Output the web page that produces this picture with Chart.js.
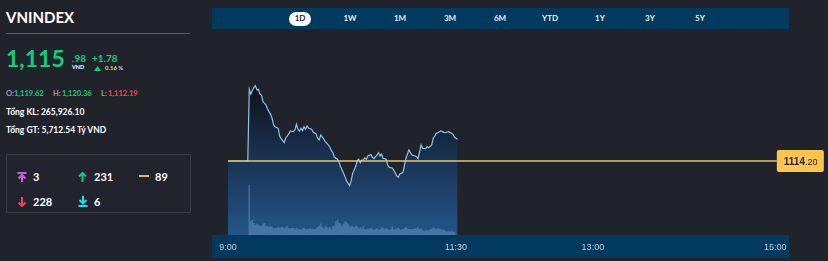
<!DOCTYPE html>
<html><head><meta charset="utf-8">
<script src="https://cdn.jsdelivr.net/npm/chart.js@4/dist/chart.umd.min.js"></script>
<style>
html,body{margin:0;padding:0;background:#21232b;width:828px;height:261px;overflow:hidden;font-family:Lato,"Open Sans",sans-serif;}
.a{position:absolute;white-space:nowrap;line-height:1;}
.tab{position:absolute;top:14px;width:40px;text-align:center;font-size:8px;font-weight:700;color:#e8eef5;line-height:1;}
.g{color:#10cf7e}
.n{font-size:11px;font-weight:700;color:#fff}
</style></head><body>
<!-- left info panel -->
<div class="a" style="left:6px;top:10px;font-size:15px;font-weight:700;color:#fff;">VNINDEX</div>
<div style="position:absolute;left:6px;top:33px;width:184px;height:1px;background:#5b5e66"></div>
<div class="a g" style="left:6px;top:47px;font-size:23px;font-weight:700;">1,115</div>
<div class="a g" style="left:72px;top:53px;font-size:10px;font-weight:700;">.98</div>
<div class="a" style="left:72px;top:65px;font-size:5.5px;font-weight:700;color:#fff;">VND</div>
<div class="a g" style="left:92px;top:53px;font-size:10px;font-weight:700;">+1.78</div>
<svg style="position:absolute;left:94px;top:66px" width="7" height="5" viewBox="0 0 7 5"><path d="M3.5 0 L7 5 L0 5 Z" fill="#10cf7e"/></svg>
<div class="a" style="left:105px;top:65px;font-size:6px;font-weight:700;color:#d0d3d8;">0.16 %</div>

<div class="a" style="left:6px;top:90px;font-size:7.5px;font-weight:700;color:#9aa0a8;">O:</div>
<div class="a g" style="left:14px;top:90px;font-size:7.5px;font-weight:700;">1,119.62</div>
<div class="a" style="left:53px;top:90px;font-size:7.5px;font-weight:700;color:#9aa0a8;">H:</div>
<div class="a g" style="left:62px;top:90px;font-size:7.5px;font-weight:700;">1,120.36</div>
<div class="a" style="left:101px;top:90px;font-size:7.5px;font-weight:700;color:#9aa0a8;">L:</div>
<div class="a" style="left:108px;top:90px;font-size:7.5px;font-weight:700;color:#f2454f;">1,112.19</div>

<div class="a" style="left:6px;top:108px;font-size:8.5px;font-weight:700;color:#fff;">Tổng KL: 265,926.10</div>
<div class="a" style="left:6px;top:126px;font-size:8.5px;font-weight:700;color:#fff;">Tổng GT: 5,712.54 Tỷ VND</div>

<div style="position:absolute;left:6px;top:154px;width:183px;height:57px;border:1px solid #383b44;background:#21242c"></div>
<svg style="position:absolute;left:17px;top:172px" width="10" height="10" viewBox="0 0 10 10"><path d="M0.5 1 H9.5 M5 3 V10 M1.5 6.5 L5 3 L8.5 6.5" stroke="#d553f2" stroke-width="2" fill="none"/></svg>
<div class="a n" style="left:33px;top:171px;">3</div>
<svg style="position:absolute;left:78px;top:172px" width="9" height="10" viewBox="0 0 9 10"><path d="M4.5 1 V10 M1 4.5 L4.5 1 L8 4.5" stroke="#16c784" stroke-width="2" fill="none"/></svg>
<div class="a n" style="left:94px;top:171px;">231</div>
<div style="position:absolute;left:139px;top:175px;width:10px;height:2px;background:#f3b43c"></div>
<div class="a n" style="left:155px;top:171px;">89</div>
<svg style="position:absolute;left:17px;top:197px" width="10" height="10" viewBox="0 0 10 10"><path d="M5 0 V9 M1.5 5.5 L5 9 L8.5 5.5" stroke="#f0435a" stroke-width="2" fill="none"/></svg>
<div class="a n" style="left:33px;top:196px;">228</div>
<svg style="position:absolute;left:78px;top:196px" width="10" height="11" viewBox="0 0 10 11"><path d="M5 0 V7.5 M1.5 4 L5 7.5 L8.5 4 M0.5 10 H9.5" stroke="#19e0ea" stroke-width="2" fill="none"/></svg>
<div class="a n" style="left:94px;top:196px;">6</div>

<!-- top period bar -->
<div style="position:absolute;left:212px;top:8px;width:577px;height:21px;background:#003a5f"></div>
<div style="position:absolute;left:289px;top:12px;width:22px;height:14px;border-radius:8px;background:#fff"></div>
<div class="tab" style="left:280px;color:#1b1d22;">1D</div>
<div class="tab" style="left:330px;">1W</div>
<div class="tab" style="left:380px;">1M</div>
<div class="tab" style="left:430px;">3M</div>
<div class="tab" style="left:480px;">6M</div>
<div class="tab" style="left:530px;">YTD</div>
<div class="tab" style="left:580px;">1Y</div>
<div class="tab" style="left:630px;">3Y</div>
<div class="tab" style="left:680px;">5Y</div>

<!-- time axis band -->
<div style="position:absolute;left:212px;top:235px;width:577px;height:23px;background:#003a5f"></div>
<canvas id="c" width="616" height="226" style="position:absolute;left:212px;top:35px;"></canvas>

<script>
// ---- data ----
const referencePrice = 1114.20;
const timeTickMinutes = [0, 150, 240, 360];          // minutes after 09:00
const timeTickLabels  = ['9:00', '11:30', '13:00', '15:00'];
const priceMinutes = [0,13,14,15,16,17,18,19,20,21,22,23,25,26,28,29,30,31,33,34,35,37,38,40,41,43,44,45,46,47,48,49,50,51,52,53,55,56,58,59,60,61,63,64,66,67,68,69,70,72,73,74,75,76,77,78,80,81,82,84,85,86,87,88,89,90,91,92,94,95,96,98,99,100,101,102,104,105,106,108,109,111,112,113,115,116,117,119,120,121,123,124,125,126,127,128,130,131,132,134,135,136,137,138,140,141,142,143,144,145,147,148,149,151];
const priceValues = [1114.20,1114.20,1120.06,1119.67,1119.95,1120.20,1120.36,1120.00,1120.06,1119.67,1119.59,1119.05,1118.78,1118.45,1118.01,1117.69,1117.14,1117.00,1116.87,1116.24,1116.00,1115.70,1116.08,1116.41,1116.65,1116.60,1116.73,1117.20,1116.79,1116.65,1116.87,1116.68,1117.00,1116.79,1117.06,1116.87,1116.79,1116.57,1116.41,1116.05,1115.92,1116.32,1116.00,1115.78,1115.51,1115.32,1115.04,1114.88,1114.50,1114.34,1114.12,1113.74,1113.47,1113.19,1112.92,1112.57,1112.19,1112.59,1113.19,1113.74,1114.23,1114.34,1114.06,1114.28,1114.28,1114.45,1114.34,1114.61,1114.72,1114.50,1114.39,1114.69,1114.88,1114.61,1114.77,1114.42,1114.34,1113.87,1113.68,1113.63,1113.47,1112.98,1112.87,1113.14,1113.25,1113.79,1114.42,1115.10,1114.88,1114.69,1114.61,1114.55,1114.39,1114.94,1115.51,1115.24,1115.21,1115.37,1115.29,1115.51,1116.05,1116.24,1116.46,1116.51,1116.65,1116.60,1116.54,1116.51,1116.57,1116.60,1116.46,1116.38,1116.13,1115.98];
const volumeStartMinute = 14; // one bar per minute from 09:14
const volumes = [150,40,45,35,30,33,30,27,27,33, 35,27,25,23,27,23,20,20,20,23, 20,23,23,20,23,25,20,19,20,20, 18,21,17,17,15,19,21,17,17,17, 19,17,17,17,19,23,27,33,23,19, 27,23,19,23,17,25,27,40,45,35, 33,27,33,40,37,33,27,25,25,23, 27,25,19,23,19,25,17,15,19,17, 21,17,15,17,19,15,17,23,19,17, 21,17,15,17,25,17,15,19,21,17, 15,17,19,23,19,17,17,17,17,19, 19,23,17,19,13,11,13,13,13,17, 17,21,19,17,19,17,17,15,15,11, 9,11,9,11,9,9];
const referenceEndMinute = 361;

const pricePoints = priceMinutes.map((m, i) => ({x: m, y: priceValues[i]}));
const volumePoints = volumes.map((v, i) => ({x: volumeStartMinute + i, y: v}));
const refPoints = [{x: 0, y: referencePrice}, {x: referenceEndMinute, y: referencePrice}];
const priceHigh = Math.max(...priceValues);

const refLabelPlugin = {
  id: 'refLabel',
  afterDatasetsDraw(chart) {
    const ctx = chart.ctx;
    const y = chart.scales.y.getPixelForValue(referencePrice);
    const x = chart.scales.x.getPixelForValue(referenceEndMinute);
    ctx.save();
    ctx.fillStyle = '#ffc44d';
    const w = 47, h = 22;
    ctx.beginPath();
    if (ctx.roundRect) ctx.roundRect(x, y - h / 2, w, h, 2); else ctx.rect(x, y - h / 2, w, h);
    ctx.fill();
    const s = referencePrice.toFixed(2).split('.');
    ctx.fillStyle = '#2a2a2a';
    ctx.textBaseline = 'alphabetic';
    ctx.font = 'bold 10px "Liberation Sans", Arial, sans-serif';
    const w1 = ctx.measureText(s[0]).width;
    ctx.fillText(s[0], x + 7, y + 4);
    ctx.font = '9px "Liberation Sans", Arial, sans-serif';
    ctx.fillText('.' + s[1], x + 7 + w1, y + 4);
    ctx.restore();
  }
};

new Chart(document.getElementById('c'), {
  type: 'line',
  data: {
    datasets: [
      { data: refPoints, borderColor: '#e9c46a', borderWidth: 1.5, pointRadius: 0, fill: false, order: 0 },
      { type: 'bar', data: volumePoints, yAxisID: 'yv', backgroundColor: 'rgba(125,170,215,0.38)', barThickness: 1, order: 1 },
      { data: pricePoints, borderColor: '#8fc3ea', borderWidth: 1.2, pointRadius: 0, tension: 0, fill: 'start', order: 2,
        backgroundColor: (c) => {
          const ch = c.chart, ca = ch.chartArea;
          if (!ca) return 'rgba(0,0,0,0)';
          const top = ch.scales.y.getPixelForValue(priceHigh);
          const g = ch.ctx.createLinearGradient(0, top, 0, ca.bottom);
          g.addColorStop(0, '#0e121a');
          g.addColorStop(0.5, '#1a3354');
          g.addColorStop(1, '#245488');
          return g;
        } }
    ]
  },
  options: {
    responsive: false, animation: false,
    layout: { padding: { left: 16, right: 39, top: 5, bottom: 0 } },
    plugins: { legend: { display: false }, tooltip: { enabled: false } },
    scales: {
      x: { type: 'linear', min: 0, max: 369, offset: false,
        grid: { display: false, drawTicks: false, offset: false }, border: { display: false },
        afterBuildTicks: s => { s.ticks = timeTickMinutes.map(v => ({ value: v })); },
        afterFit: s => { s.height = 26; },
        ticks: { padding: 7, color: '#c9ced6', autoSkip: false, maxRotation: 0,
          font: { family: '"Liberation Sans", Arial, sans-serif', size: 9 },
          callback: v => timeTickLabels[timeTickMinutes.indexOf(v)] } },
      y: { display: false, min: 1108.15, max: 1124.09 },
      yv: { display: false, min: 0, max: 585 }
    }
  },
  plugins: [refLabelPlugin]
});
</script>
</body></html>
